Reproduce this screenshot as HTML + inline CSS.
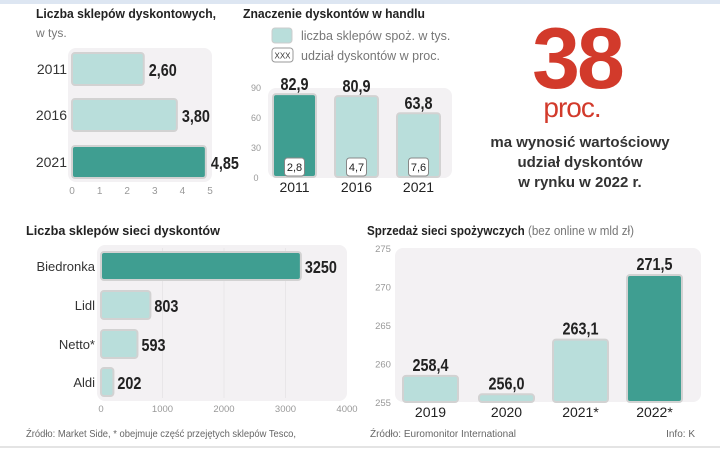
<!DOCTYPE html>
<html><head><meta charset="utf-8">
<style>
html,body{margin:0;padding:0;background:#fff;}
body{width:720px;height:453px;overflow:hidden;font-family:"Liberation Sans","DejaVu Sans",sans-serif;}
svg text{font-family:"Liberation Sans","DejaVu Sans",sans-serif;}
</style></head>
<body>
<svg id="chart" width="720" height="453" viewBox="0 0 720 453" xmlns="http://www.w3.org/2000/svg">
<rect x="0" y="0" width="720" height="4" fill="#dde6f2"/>
<rect x="0" y="446" width="720" height="2" fill="#e4e4e4"/>
<g id="g1">
<text x="36" y="18" font-size="13" font-weight="bold" fill="#222" textLength="180" lengthAdjust="spacingAndGlyphs">Liczba sklepów dyskontowych,</text>
<text x="36" y="37" font-size="12" fill="#777">w tys.</text>
<rect x="68" y="48" width="144" height="134" rx="8" fill="#f3f1f3"/>
</g>
<g id="g2">
<text x="243" y="18" font-size="13" font-weight="bold" fill="#222" textLength="182" lengthAdjust="spacingAndGlyphs">Znaczenie dyskontów w handlu</text>
<rect x="272" y="28" width="20" height="15" rx="3" fill="#b9dedb" stroke="#ccc"/>
<text x="301" y="40" font-size="12.5" fill="#777">liczba sklepów spoż. w tys.</text>
<rect x="272" y="48" width="21" height="14" rx="3" fill="#fff" stroke="#999"/>
<text x="282.5" y="58.5" font-size="8" fill="#333" text-anchor="middle">XXX</text>
<text x="301" y="60" font-size="12.5" fill="#777">udział  dyskontów w proc.</text>
<rect x="268" y="88" width="184" height="90" rx="8" fill="#f3f1f3"/>
</g>
<g>
<text x="577" y="88" font-size="86" font-weight="bold" fill="#d23a2b" text-anchor="middle" letter-spacing="-3">38</text>
<text x="572" y="117" font-size="28" fill="#d23a2b" text-anchor="middle" letter-spacing="-1">proc.</text>
<text x="580" y="147" font-size="15" font-weight="bold" fill="#333" text-anchor="middle">ma wynosić wartościowy</text>
<text x="580" y="167" font-size="15" font-weight="bold" fill="#333" text-anchor="middle">udział dyskontów</text>
<text x="580" y="187" font-size="15" font-weight="bold" fill="#333" text-anchor="middle">w rynku w 2022 r.</text>
</g>
<g id="g3">
<text x="26" y="235" font-size="13" font-weight="bold" fill="#222" textLength="194" lengthAdjust="spacingAndGlyphs">Liczba sklepów sieci dyskontów</text>
<rect x="97" y="245" width="250" height="156" rx="8" fill="#f3f1f3"/>
<text x="26" y="437" font-size="10" fill="#666" textLength="270" lengthAdjust="spacingAndGlyphs">Źródło: Market Side, * obejmuje część przejętych sklepów Tesco,</text>
</g>
<g id="g4">
<text x="367" y="235" font-size="13" font-weight="bold" fill="#222" textLength="267" lengthAdjust="spacingAndGlyphs">Sprzedaż sieci spożywczych <tspan font-weight="normal" fill="#777">(bez online w mld zł)</tspan></text>
<rect x="395" y="248" width="306" height="154" rx="8" fill="#f3f1f3"/>
<text x="370" y="437" font-size="10" fill="#666" textLength="146" lengthAdjust="spacingAndGlyphs">Źródło: Euromonitor International</text>
<text x="695" y="437" font-size="10" fill="#666" text-anchor="end">Info: K</text>
</g>
</svg>
<script>
var NS='http://www.w3.org/2000/svg';
var DARK='#3f9e91',LIGHT='#b9dedb',EDGE='#d2d2d2';
// chart 1
var c1Cats=['2011','2016','2021'];
var c1Vals=[2.60,3.80,4.85];
var c1Labels=['2,60','3,80','4,85'];
var c1Ticks=[0,1,2,3,4,5];
// chart 2
var c2Cats=['2011','2016','2021'];
var c2Stores=[82.9,80.9,63.8];
var c2StoreLabels=['82,9','80,9','63,8'];
var c2Share=['2,8','4,7','7,6'];
var c2Ticks=[0,30,60,90];
// chart 3
var c3Cats=['Biedronka','Lidl','Netto*','Aldi'];
var c3Vals=[3250,803,593,202];
var c3Ticks=[0,1000,2000,3000,4000];
// chart 4
var c4Cats=['2019','2020','2021*','2022*'];
var c4Vals=[258.4,256.0,263.1,271.5];
var c4Labels=['258,4','256,0','263,1','271,5'];
var c4Ticks=[255,260,265,270,275];

function el(parent,tag,attrs,text){var e=document.createElementNS(NS,tag);for(var k in attrs)e.setAttribute(k,attrs[k]);if(text!==undefined)e.textContent=text;parent.appendChild(e);return e;}
// condensed bold value label
function vlab(parent,x,y,anchor,text){
return el(parent,'text',{x:0,y:0,transform:'translate('+x+','+y+') scale(0.8,1)','font-size':18,'font-weight':'bold',fill:'#222','text-anchor':anchor},text);
}

// chart1
(function(){
var g=document.getElementById('g1');
function x(v){return 72+v*27.6;}
var yc=[69,115,162];
c1Ticks.forEach(function(t){var e=el(g,'text',{x:x(t),y:194,'font-size':10,fill:'#999','text-anchor':'middle'},String(t));

});
c1Vals.forEach(function(v,i){
var r=el(g,'rect',{x:x(0),y:yc[i]-16,width:x(v)-x(0),height:32,rx:3,fill:i==2?DARK:LIGHT,stroke:EDGE,'stroke-width':2});


var c=el(g,'text',{x:67,y:yc[i]+5,'font-size':14,fill:'#333','text-anchor':'end'},c1Cats[i]);


var l=vlab(g,x(v)+5,yc[i]+7,'start',c1Labels[i]);


});
})();
// chart2
(function(){
var g=document.getElementById('g2');
function y(v){return 177-v*1.0;}
var xs=[273,335,397],w=43;
c2Ticks.forEach(function(t){var e=el(g,'text',{x:256,y:y(t)+4,'font-size':9,fill:'#999','text-anchor':'middle'},String(t));

});
c2Stores.forEach(function(v,i){
var r=el(g,'rect',{x:xs[i],y:y(v),width:w,height:y(0)-y(v),rx:3,fill:i==0?DARK:LIGHT,stroke:EDGE,'stroke-width':2});


var l=vlab(g,xs[i]+w/2,y(v)-4,'middle',c2StoreLabels[i]);


var b=el(g,'rect',{x:xs[i]+w/2-10,y:158,width:20,height:18,rx:3,fill:'#fff',stroke:'#888'});


var s=el(g,'text',{x:xs[i]+w/2,y:171,'font-size':11,fill:'#222','text-anchor':'middle'},c2Share[i]);


var c=el(g,'text',{x:xs[i]+w/2,y:192,'font-size':14,fill:'#222','text-anchor':'middle'},c2Cats[i]);


});
})();
// chart3
(function(){
var g=document.getElementById('g3');
function x(v){return 101+v*0.0615;}
var yc=[266,305,344,382];
c3Ticks.forEach(function(t){
if(t>0&&t<4000){var gl=el(g,'line',{x1:x(t),x2:x(t),y1:248,y2:398,stroke:'#e8e6e8'});

}
var e=el(g,'text',{x:x(t),y:412,'font-size':9.5,fill:'#999','text-anchor':'middle'},String(t));

});
c3Vals.forEach(function(v,i){
var r=el(g,'rect',{x:x(0),y:yc[i]-14,width:x(v)-x(0),height:28,rx:3,fill:i==0?DARK:LIGHT,stroke:EDGE,'stroke-width':2});


var c=el(g,'text',{x:95,y:yc[i]+5,'font-size':13,fill:'#333','text-anchor':'end'},c3Cats[i]);


var l=vlab(g,x(v)+4,yc[i]+7,'start',String(v));


});
})();
// chart4
(function(){
var g=document.getElementById('g4');
function y(v){return 402-(v-255)*7.7;}
var xs=[403,479,553,627],w=55;
c4Ticks.forEach(function(t){var e=el(g,'text',{x:383,y:y(t)+4,'font-size':9.5,fill:'#999','text-anchor':'middle'},String(t));

});
c4Vals.forEach(function(v,i){
var r=el(g,'rect',{x:xs[i],y:y(v),width:w,height:y(255)-y(v),rx:3,fill:i==3?DARK:LIGHT,stroke:EDGE,'stroke-width':2});


var l=vlab(g,xs[i]+w/2,y(v)-5,'middle',c4Labels[i]);


var c=el(g,'text',{x:xs[i]+w/2,y:417,'font-size':14,fill:'#222','text-anchor':'middle'},c4Cats[i]);


});
})();
</script>
</body></html>
